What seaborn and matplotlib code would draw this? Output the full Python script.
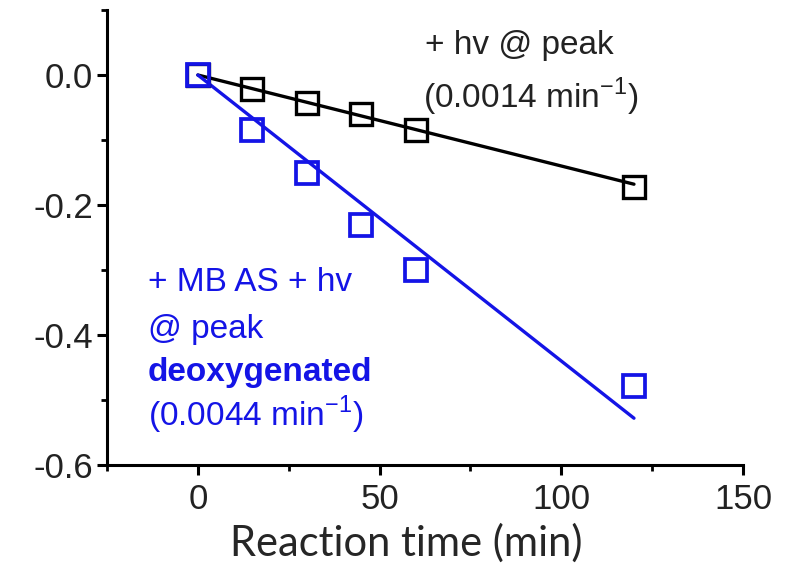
import numpy as np
import pandas as pd
import seaborn as sns
import matplotlib
matplotlib.use("Agg")
import matplotlib.pyplot as plt
from matplotlib.ticker import MultipleLocator

# ---- data ----
time_min = [0, 15, 30, 45, 60, 120]
light_only = [0.0, -0.022, -0.043, -0.060, -0.085, -0.172]
mb_as_deox = [0.0, -0.084, -0.150, -0.231, -0.300, -0.479]
rate_light = 0.0014
rate_mb = 0.0044
fit_range = [0, 120]

x_ticks = [0, 50, 100, 150]
y_ticks = [0.0, -0.2, -0.4, -0.6]

sns.set_theme(style="ticks")
plt.rcParams['font.family'] = ['Liberation Sans', 'DejaVu Sans']

BLUE = '#1414e6'
fig, ax = plt.subplots(figsize=(7.99, 5.65), dpi=100)
fig.subplots_adjust(left=107/799, right=743/799, top=1-10/565, bottom=1-465/565)

fit_x = np.array(fit_range, dtype=float)
fit_df = pd.DataFrame({
    'x': np.concatenate([fit_x, fit_x]),
    'y': np.concatenate([-rate_light * fit_x, -rate_mb * fit_x]),
    'series': ['light'] * 2 + ['mb'] * 2,
})
sns.lineplot(data=fit_df[fit_df.series == 'light'], x='x', y='y', color='black', linewidth=2.4, ax=ax)
sns.lineplot(data=fit_df[fit_df.series == 'mb'], x='x', y='y', color=BLUE, linewidth=2.4, ax=ax)

sns.lineplot(x=time_min, y=light_only, marker='s', markersize=15.5, markerfacecolor='none',
             markeredgecolor='black', markeredgewidth=2.4, linestyle='none', ax=ax)
sns.lineplot(x=time_min, y=mb_as_deox, marker='s', markersize=15.5, markerfacecolor='none',
             markeredgecolor=BLUE, markeredgewidth=2.7, linestyle='none', ax=ax)

ax.set_xlim(-25, 150)
ax.set_ylim(-0.6, 0.1)
ax.set_xticks(x_ticks)
ax.set_yticks(y_ticks)
ax.set_xticklabels([str(v) for v in x_ticks])
ax.set_yticklabels([f"{v:.1f}" for v in y_ticks])
ax.xaxis.set_minor_locator(MultipleLocator(25))
ax.yaxis.set_minor_locator(MultipleLocator(0.1))
sns.despine(ax=ax)
for s in ['left', 'bottom']:
    ax.spines[s].set_linewidth(2.2)
    ax.spines[s].set_color('black')
ax.tick_params(axis='both', which='major', direction='out', length=7, width=2.2,
               labelsize=25, colors='black', pad=3)
ax.tick_params(axis='both', which='minor', direction='out', length=4, width=2.0, colors='black')
ax.tick_params(axis='x', which='major', pad=6)
for lab in ax.get_xticklabels() + ax.get_yticklabels():
    lab.set_color('#222222')

ax.set_xlabel('Reaction time (min)', fontsize=30, family=['Lato', 'DejaVu Sans'], labelpad=4)
ax.xaxis.set_label_coords(0.47, -0.128)
ax.set_ylabel('')

TXT = 24
ax.text(0.5, 0.923, '+ hv @ peak', transform=ax.transAxes, fontsize=TXT, color='#222222',
        ha='left', va='center')
ax.text(0.497, 0.809, r'(0.0014 min$^{\mathregular{-1}}$)', transform=ax.transAxes,
        fontsize=TXT, color='#222222', ha='left', va='center')

ax.text(0.064, 0.402, '+ MB AS + hv', transform=ax.transAxes, fontsize=TXT, color=BLUE,
        ha='left', va='center')
ax.text(0.064, 0.297, '@ peak', transform=ax.transAxes, fontsize=TXT, color=BLUE,
        ha='left', va='center')
ax.text(0.064, 0.204, 'deoxygenated', transform=ax.transAxes, fontsize=TXT, color=BLUE,
        fontweight='bold', ha='left', va='center')
ax.text(0.064, 0.11, r'(0.0044 min$^{\mathregular{-1}}$)', transform=ax.transAxes,
        fontsize=TXT, color=BLUE, ha='left', va='center')

fig.savefig('out.png', dpi=100)
